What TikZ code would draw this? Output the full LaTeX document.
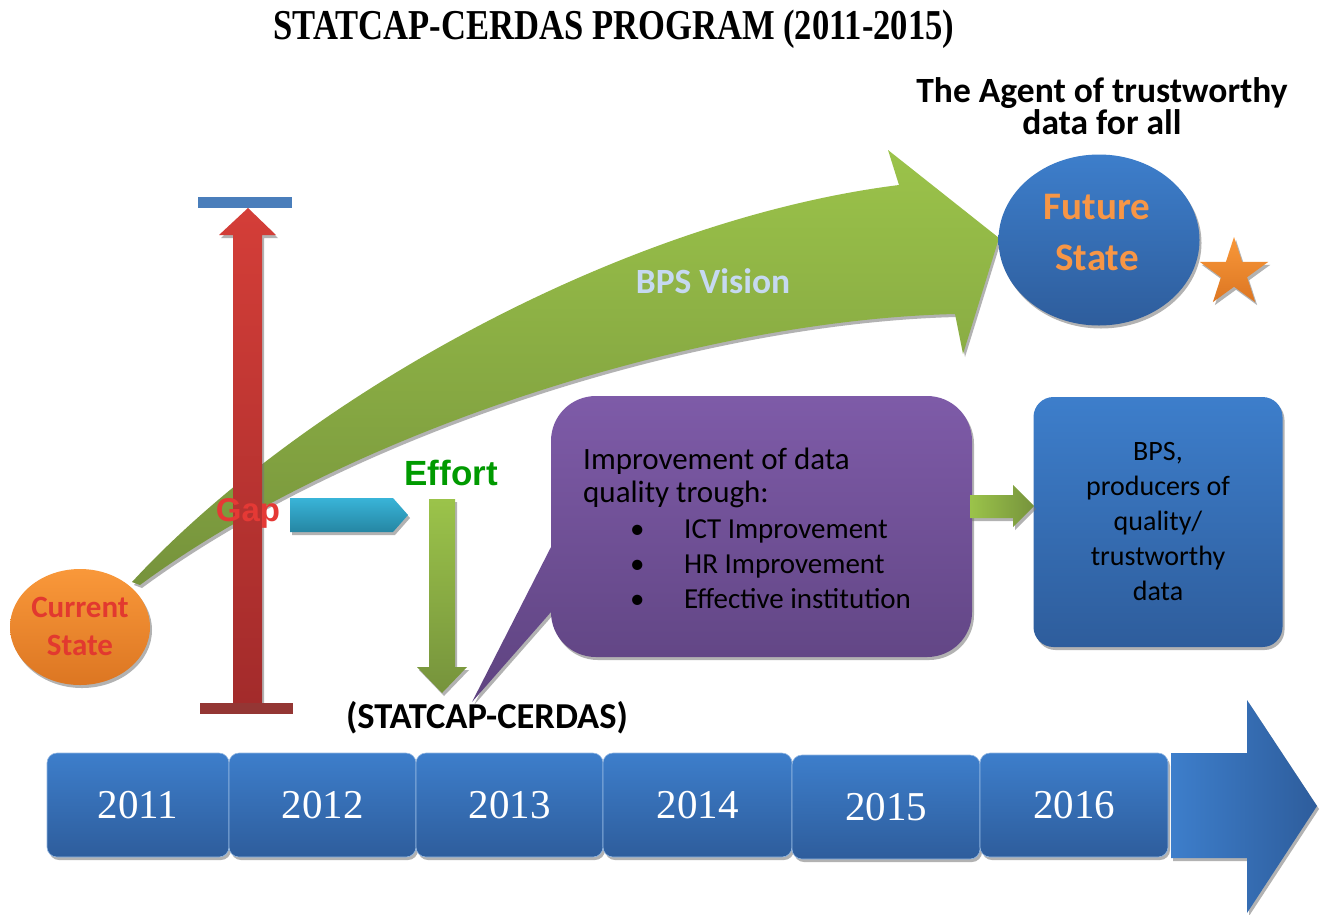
\documentclass[tikz,border=0pt]{standalone}
\usepackage{fontspec}
\setmainfont{Carlito}
\newfontfamily\serif{Liberation Serif}
\newfontfamily\arial{Liberation Sans}
\usetikzlibrary{shapes.geometric,shadows}
\newcommand{\myfs}[2]{\fontsize{#1}{#2}\selectfont}
\definecolor{gLight}{HTML}{9BC34A}
\definecolor{gDark}{HTML}{76933C}
\definecolor{bTop}{HTML}{3D7ECB}
\definecolor{bBot}{HTML}{2E5D9C}
\definecolor{oTop}{HTML}{F9983A}
\definecolor{oBot}{HTML}{DC7622}
\definecolor{rTop}{HTML}{D43E38}
\definecolor{rBot}{HTML}{A32B2B}
\definecolor{pTop}{HTML}{7E5BA8}
\definecolor{pBot}{HTML}{5E4380}
\definecolor{cTop}{HTML}{39B4D8}
\definecolor{cBot}{HTML}{2586A3}
\definecolor{barBlue}{HTML}{4A7EBB}
\definecolor{barRed}{HTML}{943634}
\definecolor{curRed}{HTML}{E2392F}
\definecolor{futOr}{HTML}{F79646}
\definecolor{visBlue}{HTML}{C6D9F1}
\definecolor{effGreen}{HTML}{009A00}
\definecolor{gapRed}{HTML}{E53935}
\tikzset{
  shad/.style={drop shadow={shadow xshift=2pt,shadow yshift=-3pt,fill=black!55,opacity=0.55}},
  yearbox/.style={rectangle,rounded corners=10pt,top color=bTop,bottom color=bBot,
    draw=bTop!55!white,line width=0.6pt,text=white,font=\serif\myfs{41}{41},
    inner sep=0pt,minimum height=104pt,shad},
  bodytxt/.style={font=\myfs{31}{31},anchor=base west,inner sep=0pt},
  itemtxt/.style={font=\myfs{29}{29},anchor=base west,inner sep=0pt}
}
\begin{document}
\begin{tikzpicture}[x=1pt,y=-1pt]
\useasboundingbox (0,0) rectangle (1324,914);
\fill[white] (0,0) rectangle (1324,914);

% title
\node[font=\serif\bfseries\myfs{38}{38},inner sep=0pt] (title) at (614,29)
  {\scalebox{0.91}[1.12]{STATCAP-CERDAS PROGRAM (2011-2015)}};

% curved vision arrow
\path[shad,top color=gLight,bottom color=gDark]
  (132,582) .. controls (300,400) and (620,220) .. (899,185)
  -- (888,150) -- (999,238) -- (963,354) -- (955,314)
  .. controls (700,320) and (350,430) .. (140,585) -- cycle;
\node[font=\bfseries\myfs{35.5}{35.5},text=visBlue] (vision) at (713,281) {BPS Vision};

% current state
\node[ellipse,minimum width=140pt,minimum height=116pt,inner sep=0pt,
  top color=oTop,bottom color=oBot,shad] (cur) at (80,627) {};
\node[font=\bfseries\myfs{31}{38},text=curRed,align=center] (curt) at (80,626) {Current\\State};

% future state
\node[ellipse,minimum width=201pt,minimum height=171pt,inner sep=0pt,
  top color=bTop,bottom color=bBot,shad] (fut) at (1099,240) {};
\node[font=\bfseries\myfs{39}{51},text=futOr,align=center] (futt) at (1097,232) {Future\\State};
\node[star,star points=5,star point ratio=2.618,minimum size=72pt,inner sep=0pt,
  top color=oTop,bottom color=oBot,shad] (star) at (1234,273) {};
\node[font=\bfseries\myfs{35.5}{30},align=center,inner sep=0pt] (agent) at (1102,106)
  {The Agent of trustworthy\\data for all};

% gap arrow
\coordinate (gaptop) at (248,208);
\path[shad,top color=rTop,bottom color=rBot]
  (233,703) -- (233,235) -- (219,235) -- (gaptop) -- (276,235) -- (262,235) -- (262,703) -- cycle;
\node[rectangle,fill=barBlue,minimum width=94pt,minimum height=11pt,inner sep=0pt,anchor=south] (bartop) at (245,208) {};
\node[rectangle,fill=barRed,minimum width=93pt,minimum height=11pt,inner sep=0pt,anchor=north] (barbot) at (246.5,703) {};

% cyan arrow
\path[shad,top color=cTop,bottom color=cBot]
  (290,498) -- (393,498) -- (408,515) -- (393,532) -- (290,532) -- cycle;
\node[font=\arial\bfseries\myfs{33}{33},text=gapRed] (gap) at (248,513) {Gap};

% effort
\node[font=\arial\bfseries\myfs{35}{35},text=effGreen] (effort) at (451,473) {Effort};
\node[font=\bfseries\myfs{36.5}{36.5}] (sclabel) at (487,718) {(STATCAP-CERDAS)};
\path[shad,top color=gLight,bottom color=gDark]
  (429,499) -- (455,499) -- (455,667) -- (467,667) -- (442,693) -- (417,667) -- (429,667) -- cycle;

% callout
\path[shad,top color=pTop,bottom color=pBot]
  (472,702) -- (551,547) -- (551,441) .. controls (551,416) and (571,396) .. (596,396)
  -- (927,396) .. controls (952,396) and (972,416) .. (972,441)
  -- (972,612) .. controls (972,637) and (952,657) .. (927,657)
  -- (596,657) .. controls (571,657) and (551,637) .. (551,612) -- cycle;
\node[bodytxt] (l1) at (583,469) {Improvement of data};
\node[bodytxt] (l2) at (583,502) {quality trough:};
\node[itemtxt] (b1) at (630,538) {•};
\node[itemtxt] (l3) at (684,538) {ICT Improvement};
\node[itemtxt] (b2) at (630,573) {•};
\node[itemtxt] (l4) at (684,573) {HR Improvement};
\node[itemtxt] (b3) at (630,608) {•};
\node[itemtxt] (l5) at (684,608) {Effective institution};

% BPS box
\node[rectangle,rounded corners=20pt,minimum width=249pt,minimum height=250pt,inner sep=0pt,
  top color=bTop,bottom color=bBot,shad,align=center,font=\myfs{28}{35}] (bps) at (1158,522)
  {BPS,\\producers of\\quality/\\trustworthy\\data};

% small green arrow
\path[shad,left color=gLight,right color=gDark]
  (970,495) -- (1013,495) -- (1013,485) -- (1034,506) -- (1013,527) -- (1013,518) -- (970,518) -- cycle;

% timeline
\node[yearbox,minimum width=182pt] (y11) at (138,805) {2011};
\node[yearbox,minimum width=187pt] (y12) at (322.5,805) {2012};
\node[yearbox,minimum width=187pt] (y13) at (509.5,805) {2013};
\node[yearbox,minimum width=189pt] (y14) at (697.5,805) {2014};
\node[yearbox,minimum width=188pt] (y15) at (886,807) {2015};
\node[yearbox,minimum width=188pt] (y16) at (1074,805) {2016};
\path[shad,left color=bTop,right color=bBot]
  (1171,753) -- (1247,753) -- (1247,700) -- (1317,806) -- (1247,913) -- (1247,858) -- (1171,858) -- cycle;
\end{tikzpicture}
\end{document}
